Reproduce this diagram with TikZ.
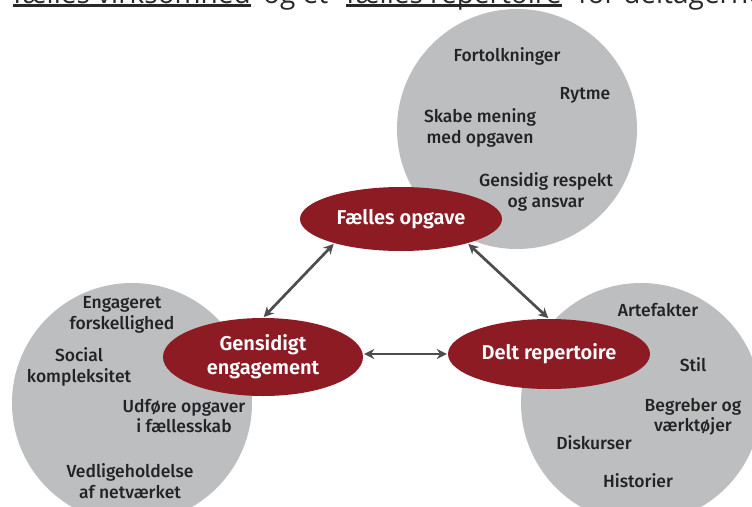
\documentclass[tikz,border=0pt]{standalone}
\usepackage{fontspec}
\setmainfont{Fira Sans}
\newfontfamily\itemfont{Fira Sans Medium}
\newfontfamily\hubfont{Fira Sans SemiBold}
\newfontfamily\topfont{Open Sans}
\usetikzlibrary{shapes.geometric,arrows.meta}
\definecolor{circgray}{RGB}{189,190,192}
\definecolor{darkred}{RGB}{140,27,36}
\definecolor{arrowgray}{RGB}{77,77,77}
\definecolor{txt}{RGB}{35,35,35}
\definecolor{toptxt}{RGB}{40,40,40}
\begin{document}
\begin{tikzpicture}[x=1pt,y=-1pt,
  bubble/.style={circle,fill=circgray,minimum size=240pt,inner sep=0pt},
  hub/.style={ellipse,fill=darkred,text=white,inner sep=0pt,font=\hubfont\fontsize{20}{24}\selectfont,align=center},
  item/.style={text=txt,font=\itemfont\fontsize{17.5}{20.5}\selectfont,align=center,inner sep=0pt},
  toptext/.style={text=toptxt,font=\topfont\fontsize{28}{30}\selectfont,inner sep=0pt,anchor=base west},
  uline/.style={toptxt,line width=2.7pt},
  link/.style={arrowgray,line width=2.7pt,{Stealth[length=10pt,width=10pt]}-{Stealth[length=10pt,width=10pt]},shorten >=1pt,shorten <=1pt}
]
\useasboundingbox (0,0) rectangle (752,506);
\clip (0,0) rectangle (752,506);
\fill[white] (0,0) rectangle (752,506);
% top line (cut off at the top edge)
\node[toptext] (t1) at (13,3.5) {fælles virksomhed};
\node[toptext] (t2) at (263,3.5) {og et};
\node[toptext] (t3) at (346,3.5) {fælles repertoire};
\node[toptext] (t4) at (578,3.5) {for deltagerne};
\draw[uline] ([yshift=-2.2pt]t1.base west) -- ([yshift=-2.2pt]t1.base east);
\draw[uline] ([yshift=-2.2pt]t3.base west) -- ([yshift=-2.2pt]t3.base east);
% circles
\node[bubble] (c1) at (517,129) {};
\node[bubble] (c2) at (132,403) {};
\node[bubble] (c3) at (641,403) {};
% hubs
\node[hub,minimum width=202pt,minimum height=64pt] (fo) at (401,219) {Fælles opgave};
\node[hub,minimum width=200pt,minimum height=78pt] (ge) at (263,357) {Gensidigt\\engagement};
\node[hub,minimum width=202pt,minimum height=70pt] (dr) at (549,354) {Delt repertoire};
% links
\draw[link] (fo.200) -- (ge.north);
\draw[link] (fo.-20) -- (dr.north);
\draw[link] (ge.east |- dr.west) -- (dr.west);
% items top
\node[item] (i1) at (507,56) {Fortolkninger};
\node[item] (i2) at (585,95) {Rytme};
\node[item] (i3) at (480,128) {Skabe mening\\med opgaven};
\node[item] (i4) at (546,192) {Gensidig respekt\\og ansvar};
% items left
\node[item] (i5) at (122,315) {Engageret\\forskellighed};
\node[item] (i6) at (79,367) {Social\\kompleksitet};
\node[item] (i7) at (184,416) {Udføre opgaver\\i fællesskab};
\node[item] (i8) at (130,481) {Vedligeholdelse\\af netværket};
% items right
\node[item] (i9) at (658,310) {Artefakter};
\node[item] (i10) at (693,365) {Stil};
\node[item] (i11) at (693,417) {Begreber og\\værktøjer};
\node[item] (i12) at (594,443) {Diskurser};
\node[item] (i13) at (638,481) {Historier};
\end{tikzpicture}
\end{document}
